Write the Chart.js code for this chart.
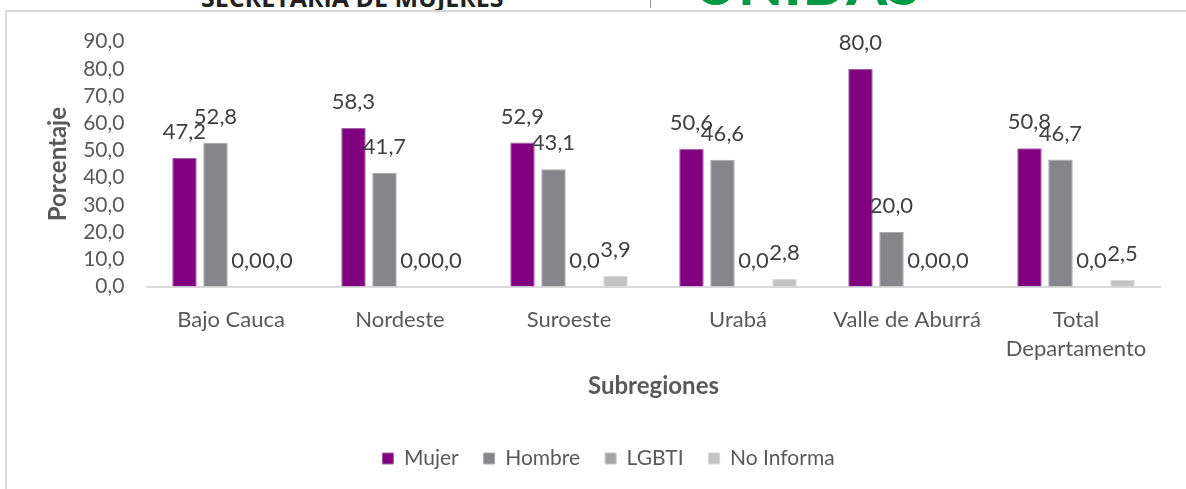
<!DOCTYPE html>
<html>
<head>
<meta charset="utf-8">
<script src="https://cdn.jsdelivr.net/npm/chart.js@4"></script>
<style>
  html, body { margin: 0; padding: 0; background: #fff; }
  #page { position: relative; width: 1186px; height: 489px; overflow: hidden; }
  #frame { position: absolute; left: 5px; top: 10px; right: -5px; bottom: -5px;
           border-left: 2px solid #d9d9d9; border-top: 2px solid #d9d9d9; }
  .hdr { position: absolute; white-space: nowrap; }
  #sec { left: 201px; top: -20px; font: bold 25px "Open Sans", sans-serif; color: #222; letter-spacing: 0px; }
  #sep { left: 650px; top: 0; width: 1px; height: 8px; background: #999; }
  #uni { left: 694px; top: -52px; font: 900 58px "Lato", sans-serif; color: #009a44; letter-spacing: 1px; }
  canvas { position: absolute; left: 0; top: 0; }
</style>
</head>
<body>
<div id="page">
  <div class="hdr" id="sec">SECRETARIA DE MUJERES</div>
  <div class="hdr" id="sep"></div>
  <div class="hdr" id="uni">UNIDAS</div>
  <div id="frame"></div>
  <canvas id="subregionGraph" width="1186" height="489"></canvas>
</div>
<script>
// datos de la gráfica
const subregiones = ['Bajo Cauca', 'Nordeste', 'Suroeste', 'Urabá', 'Valle de Aburrá', ['Total', 'Departamento']];
const mujer = [47.2, 58.3, 52.9, 50.6, 80.0, 50.8];
const hombre = [52.8, 41.7, 43.1, 46.6, 20.0, 46.7];
const lgbti = [0.0, 0.0, 0.0, 0.0, 0.0, 0.0];
const noInforma = [0.0, 0.0, 3.9, 2.8, 0.0, 2.5];
const yTicks = [0, 10, 20, 30, 40, 50, 60, 70, 80, 90];

const fmt = v => v.toFixed(1).replace('.', ',');
const FONT = 'Lato';

// etiquetas de valor encima de cada barra
const valueLabels = {
  id: 'valueLabels',
  afterDatasetsDraw(chart) {
    const ctx = chart.ctx;
    ctx.save();
    ctx.font = '22px ' + FONT;
    ctx.fillStyle = '#404040';
    ctx.textAlign = 'center';
    ctx.textBaseline = 'middle';
    chart.data.datasets.forEach((ds, i) => {
      chart.getDatasetMeta(i).data.forEach((bar, j) => {
        ctx.fillText(fmt(ds.data[j]), bar.x, bar.y - 26);
      });
    });
    ctx.restore();
  }
};

const ctx = document.getElementById('subregionGraph').getContext('2d');
new Chart(ctx, {
  type: 'bar',
  data: {
    labels: subregiones,
    datasets: [
      { label: 'Mujer', data: mujer, backgroundColor: '#800080', borderColor: '#a366a3', borderWidth: 1 },
      { label: 'Hombre', data: hombre, backgroundColor: '#868589', borderColor: '#a9a8ab', borderWidth: 1 },
      { label: 'LGBTI', data: lgbti, backgroundColor: '#a6a6a6', borderColor: '#c4c4c4', borderWidth: 1 },
      { label: 'No Informa', data: noInforma, backgroundColor: '#c3c3c3', borderColor: '#d6d6d6', borderWidth: 1 }
    ]
  },
  options: {
    responsive: false,
    animation: false,
    maintainAspectRatio: false,
    layout: { padding: { left: 56.5, right: 25.5, top: 41.7, bottom: 10 } },
    datasets: { bar: { categoryPercentage: 0.734, barPercentage: 0.79 } },
    plugins: {
      tooltip: { enabled: false },
      legend: {
        position: 'bottom',
        labels: {
          boxWidth: 11, boxHeight: 11, padding: 25,
          color: '#595959', font: { family: FONT, size: 21 }
        }
      }
    },
    scales: {
      x: {
        grid: { display: false, drawTicks: false },
        border: { display: true, color: '#d9d9d9', width: 2 },
        ticks: { color: '#595959', font: { family: FONT, size: 22, lineHeight: 1.36 }, padding: 18, maxRotation: 0, autoSkip: false },
        title: { display: true, text: 'Subregiones', color: '#595959',
                 font: { family: FONT, size: 24, weight: 'bold' }, padding: { top: 0, bottom: 22.6 } },
        afterFit(scale) { scale.height = 136.5; }
      },
      y: {
        min: 0, max: 90,
        afterBuildTicks(scale) { scale.ticks = yTicks.map(v => ({ value: v })); },
        grid: { display: false, drawTicks: false },
        border: { display: false },
        ticks: { color: '#595959', font: { family: FONT, size: 21, lineHeight: 1 }, padding: 22, autoSkip: false, callback: v => fmt(v) },
        title: { display: true, text: 'Porcentaje', color: '#595959',
                 font: { family: FONT, size: 24, weight: 'bold', lineHeight: '3px' }, padding: 0 },
        afterFit(scale) { scale.width = 90; }
      }
    }
  },
  plugins: [valueLabels]
});
</script>
</body>
</html>
